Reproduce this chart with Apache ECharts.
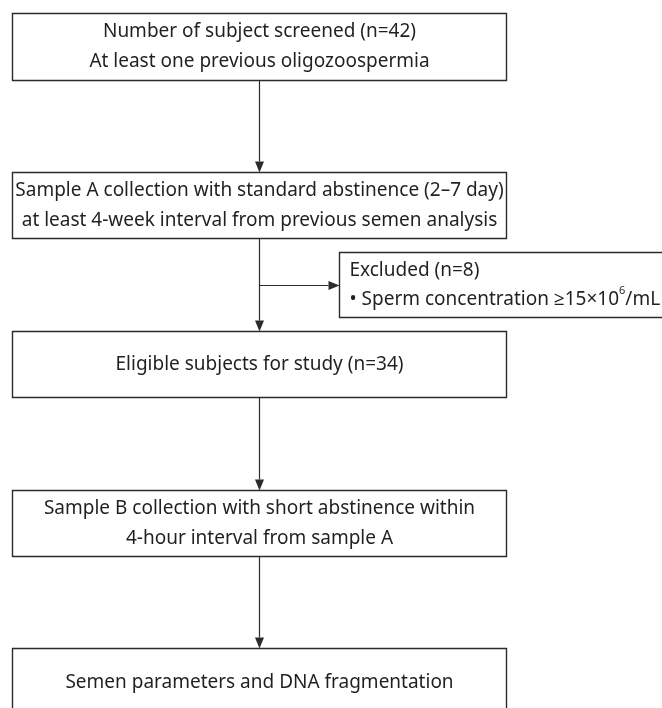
<!DOCTYPE html>
<html>
<head>
<meta charset="utf-8">
<script src="https://cdn.jsdelivr.net/npm/echarts@6/dist/echarts.min.js"></script>
<style>
html,body{margin:0;padding:0;background:#fff;}
#chart{width:662px;height:708px;}
</style>
</head>
<body>
<div id="chart"></div>
<script>
// ---- content (flowchart text) ----
const stepTexts = [
  'Number of subject screened (n=42)\nAt least one previous oligozoospermia',
  'Sample A collection with standard abstinence (2\u20137 day)\nat least 4-week interval from previous semen analysis',
  'Eligible subjects for study (n=34)',
  'Sample B collection with short abstinence within\n4-hour interval from sample A',
  'Semen parameters and DNA fragmentation'
];
const excludedTitle = 'Excluded (n=8)';
const excludedDetail = '\u2022 Sperm concentration \u226515\u00d710{sup|6}/mL';

// ---- layout (separate from content) ----
const mainX = [12, 506];
const stepY = [[13, 80], [172, 238], [331, 397], [490, 556], [648, 716]];
const exclBox = {x: [339, 700], y: [252, 317]};
const branchY = 285;
const FONT = '"Noto Sans", "Open Sans", sans-serif';
const TEXT_COLOR = '#231f20';
const LINE_COLOR = '#2b2b2b';

const chart = echarts.init(document.getElementById('chart'), null, {renderer: 'canvas'});

function rectShape(api, x0, y0, x1, y1) {
  const p0 = api.coord([x0, y0]);
  const p1 = api.coord([x1, y1]);
  return {x: Math.min(p0[0], p1[0]) + 0.5, y: Math.min(p0[1], p1[1]) + 0.5,
          width: Math.abs(p1[0] - p0[0]), height: Math.abs(p1[1] - p0[1])};
}

function renderStep(params, api) {
  const i = params.dataIndex;
  const [y0, y1] = stepY[i];
  const r = rectShape(api, mainX[0], y0, mainX[1], y1);
  return {
    type: 'group',
    children: [
      {type: 'rect', shape: r, style: {fill: '#fff', stroke: LINE_COLOR, lineWidth: 1.4}},
      {type: 'text', x: r.x + r.width / 2, y: r.y + r.height / 2,
       style: {text: stepTexts[i], fill: TEXT_COLOR, font: '19px ' + FONT,
               align: 'center', verticalAlign: 'middle', lineHeight: 30}}
    ]
  };
}

function renderExcluded(params, api) {
  const r = rectShape(api, exclBox.x[0], exclBox.y[0], exclBox.x[1], exclBox.y[1]);
  return {
    type: 'group',
    children: [
      {type: 'rect', shape: r, style: {fill: '#fff', stroke: LINE_COLOR, lineWidth: 1.4}},
      {type: 'text', x: r.x + 10, y: r.y + r.height / 2,
       style: {text: excludedTitle + '\n' + excludedDetail, fill: TEXT_COLOR,
               font: '19px ' + FONT, align: 'left', verticalAlign: 'middle', lineHeight: 29,
               rich: {sup: {fontSize: 11, fontFamily: FONT, fill: TEXT_COLOR, verticalAlign: 'top', lineHeight: 29, padding: [0, 0, 10, 0]}}}}
    ]
  };
}

function arrow(api, from, to) {
  const a = api.coord(from), b = api.coord(to);
  const dx = b[0] - a[0], dy = b[1] - a[1];
  const len = Math.sqrt(dx * dx + dy * dy);
  const ux = dx / len, uy = dy / len;
  const hl = 11, hw = 4.5;
  const base = [b[0] - ux * hl, b[1] - uy * hl];
  return [
    {type: 'line', shape: {x1: a[0] + 0.5, y1: a[1] + 0.5, x2: base[0] + 0.5, y2: base[1] + 0.5},
     style: {stroke: LINE_COLOR, lineWidth: 1.2}},
    {type: 'polygon', shape: {points: [[b[0] + 0.5, b[1] + 0.5],
       [base[0] - uy * hw + 0.5, base[1] + ux * hw + 0.5], [base[0] + uy * hw + 0.5, base[1] - ux * hw + 0.5]]},
     style: {fill: LINE_COLOR}}
  ];
}

function renderArrows(params, api) {
  const cx = (mainX[0] + mainX[1]) / 2;
  let children = [];
  for (let i = 0; i < stepY.length - 1; i++) {
    children = children.concat(arrow(api, [cx, stepY[i][1]], [cx, stepY[i + 1][0]]));
  }
  children = children.concat(arrow(api, [cx, branchY], [exclBox.x[0], branchY]));
  return {type: 'group', children};
}

chart.setOption({
  animation: false,
  backgroundColor: '#fff',
  grid: {left: 0, right: 0, top: 0, bottom: 0},
  xAxis: {type: 'value', min: 0, max: 662, show: false},
  yAxis: {type: 'value', min: 0, max: 708, inverse: true, show: false},
  series: [
    {type: 'custom', renderItem: renderArrows, data: [0], z: 1, silent: true, clip: false},
    {type: 'custom', renderItem: renderStep, data: stepTexts.map((t, i) => i), z: 2, silent: true, clip: false},
    {type: 'custom', renderItem: renderExcluded, data: [0], z: 2, silent: true, clip: false}
  ]
});
</script>
</body>
</html>
